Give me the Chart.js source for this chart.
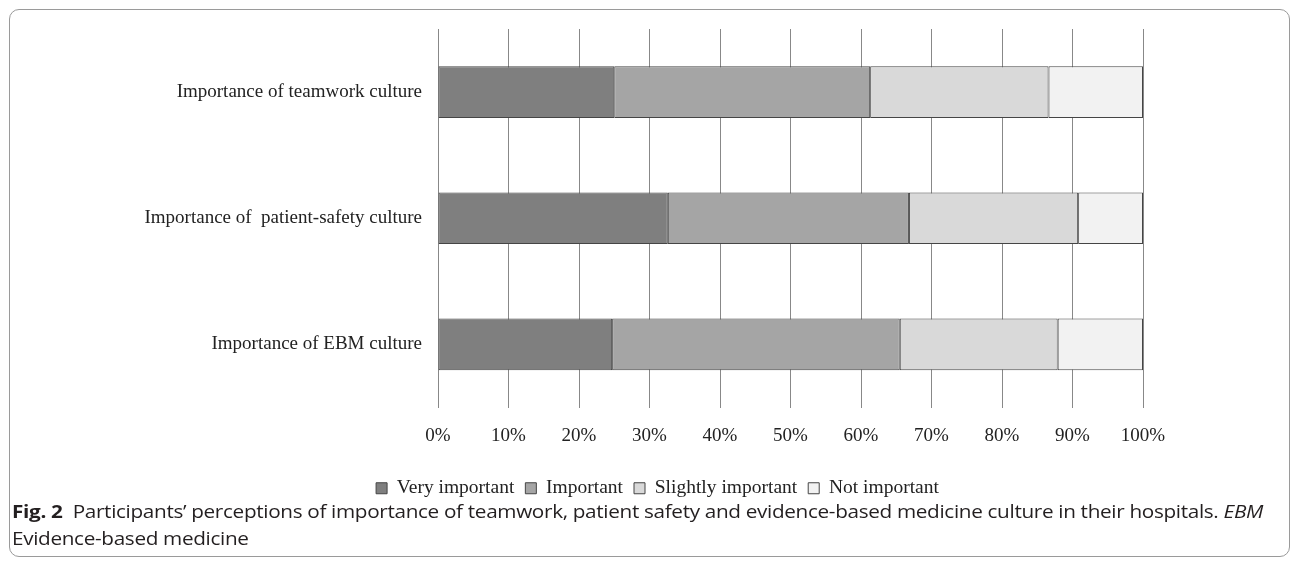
<!DOCTYPE html>
<html>
<head>
<meta charset="utf-8">
<script src="https://cdn.jsdelivr.net/npm/chart.js@4"></script>
<style>
  body { margin:0; background:#fff; }
  #frame { position:absolute; left:9px; top:9px; width:1279px; height:546px; border:1px solid #9a9a9a; border-radius:10px; }
  #wrap { position:absolute; left:0; top:0; width:1298px; height:508px; }
  #cap { position:absolute; left:12px; top:497px; font-family:"Open Sans", sans-serif; font-size:18.5px; line-height:27px; color:#231f20; white-space:nowrap; letter-spacing:-0.3px; }
  #cap div { transform-origin:0 50%; display:inline-block; }
</style>
</head>
<body>
<div id="frame"></div>
<div id="wrap"><canvas id="myChart"></canvas></div>
<div id="cap"><div id="l1"><b>Fig. 2</b>&nbsp; Participants’ perceptions of importance of teamwork, patient safety and evidence-based medicine culture in their hospitals. <i>EBM</i></div><br><div id="l2">Evidence-based medicine</div></div>
<script>
const ctx = document.getElementById('myChart');
// data (percent of participants)
categories = ['Importance of teamwork culture', 'Importance of  patient-safety culture', 'Importance of EBM culture'];
series = ['Very important', 'Important', 'Slightly important', 'Not important'];
veryImportant = [25.0, 32.6, 24.7];
important = [36.3, 34.2, 40.8];
slightlyImportant = [25.3, 24.0, 22.4];
notImportant = [13.4, 9.2, 12.1];
tickValues = [0, 10, 20, 30, 40, 50, 60, 70, 80, 90, 100];

colores = ['#7f7f7f', '#a5a5a5', '#d9d9d9', '#f2f2f2'];
valores = [veryImportant, important, slightlyImportant, notImportant];
serif = "'Liberation Serif', 'Times New Roman', serif";

// caption is condensed in the original
var l1 = document.getElementById('l1');
var k = 1251 / l1.getBoundingClientRect().width;
l1.style.transform = 'scaleX(' + k + ')';
document.getElementById('l2').style.transform = 'scaleX(' + k + ')';

// move legend a bit to the right, like the figure
const moverLeyenda = {
  id: 'moverLeyenda',
  beforeDraw: function(chart) {
    chart.legend.left += 16;
    chart.legend.right += 16;
  }
};

new Chart(ctx, {
  type: 'bar',
  data: {
    labels: categories,
    datasets: series.map(function(s, i) {
      return {
        label: s,
        data: valores[i],
        backgroundColor: colores[i],
        borderColor: '#454545',
        borderWidth: 1,
        borderSkipped: false,
        barPercentage: 0.41,
        categoryPercentage: 1
      };
    })
  },
  options: {
    indexAxis: 'y',
    responsive: true,
    maintainAspectRatio: false,
    animation: false,
    layout: { padding: { left: 140, right: 155, top: 29, bottom: 0 } },
    scales: {
      x: {
        stacked: true,
        min: 0, max: 100,
        afterBuildTicks: function(scale) { scale.ticks = tickValues.map(v => ({ value: v })); },
        afterFit: function(scale) { scale.height = 60; },
        grid: { color: '#888', drawTicks: false },
        border: { display: false },
        ticks: { padding: 17, color: '#222', font: { family: serif, size: 19 }, callback: v => v + '%' }
      },
      y: {
        stacked: true,
        afterFit: function(scale) { scale.width = 298; },
        grid: { display: false },
        border: { display: false },
        ticks: { padding: 8, color: '#222', font: { family: serif, size: 19 } }
      }
    },
    plugins: {
      legend: {
        position: 'bottom',
        labels: { boxWidth: 11, boxHeight: 11, padding: 11, color: '#222', font: { family: serif, size: 19.5 } }
      },
      tooltip: { enabled: false }
    }
  },
  plugins: [moverLeyenda]
});
</script>
</body>
</html>
